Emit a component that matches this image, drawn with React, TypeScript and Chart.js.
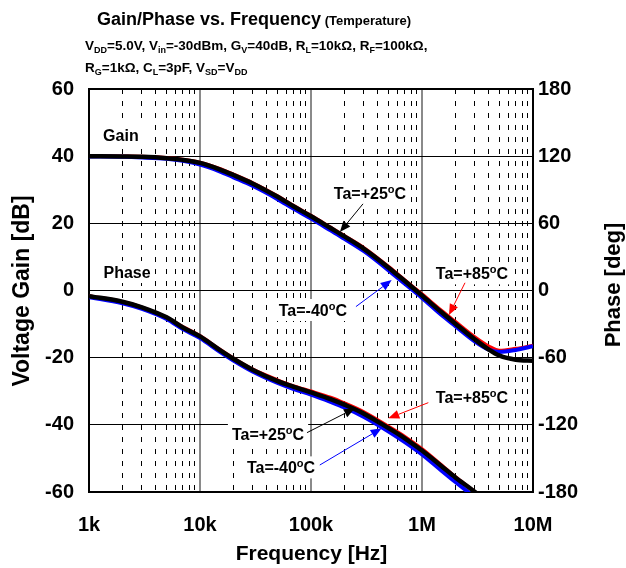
import React, { useEffect, useRef } from 'react';
import { Chart, registerables } from 'chart.js';

Chart.register(...registerables);

const FONT = '"Liberation Sans", Arial, Helvetica, sans-serif';

// ---- data ----
const frequencyHz = [1e3, 2e3, 3e3, 5e3, 7e3, 1e4, 1.5e4, 2e4, 3e4, 5e4, 7e4, 1e5, 1.5e5, 2e5, 3e5, 5e5, 7e5, 1e6, 1.5e6, 2e6, 3e6, 4e6, 5e6, 7e6, 1e7];

const gain25 = [40.0, 39.9, 39.8, 39.4, 38.9, 38.0, 36.1, 34.4, 31.8, 27.9, 25.0, 22.1, 18.6, 16.1, 12.4, 6.8, 2.8, -1.5, -6.5, -9.9, -14.6, -17.6, -19.4, -20.6, -20.9];
const gainM40 = [39.9, 39.8, 39.6, 39.2, 38.6, 37.5, 35.5, 33.7, 31.1, 27.2, 24.3, 21.4, 17.9, 15.4, 11.7, 6.0, 2.0, -2.2, -7.3, -10.6, -15.2, -17.6, -18.3, -17.7, -16.6];
const gain85 = [40.1, 40.0, 39.9, 39.5, 39.0, 38.1, 36.3, 34.6, 32.0, 28.1, 25.2, 22.3, 18.8, 16.3, 12.7, 7.1, 3.1, -1.1, -6.0, -9.3, -13.9, -16.6, -17.9, -17.3, -16.4];

const phase25 = [-5, -10, -15, -24, -33, -41, -53, -61, -71, -81, -86, -91, -97, -102, -110, -123, -132, -143, -157, -167, -180, -191, -199, -212, -225];
const phaseM40 = [-6, -11.5, -16.5, -25.5, -34.5, -42.5, -54.5, -62.5, -72.5, -82.5, -88, -93, -99.5, -104.5, -113, -126, -135.5, -146.5, -161, -171, -185, -196, -204, -217, -230];
const phase85 = [-5, -10, -15, -24, -32.5, -40.5, -52.5, -60.5, -70.5, -80, -85.5, -90, -95.5, -100.5, -108.5, -121.5, -130.5, -141.5, -156, -166.5, -180, -191, -199, -212, -225];

const xDecadeTicks = [1e3, 1e4, 1e5, 1e6, 1e7];
const xDecadeLabels = ['1k', '10k', '100k', '1M', '10M'];
const xMinorMultipliers = [2, 3, 4, 5, 6, 7, 8, 9];

const gainRange = { min: -60, max: 60, step: 20 };
const phaseRange = { min: -180, max: 180, step: 60 };

// ---- text helpers ----
type Run = { t: string; size: number; dy?: number };
const tempRuns = (t: string): Run[] => [
  { t: 'Ta=' + t, size: 16 },
  { t: 'o', size: 11, dy: -6 },
  { t: 'C', size: 16 },
];
const plainRuns = (t: string): Run[] => [{ t, size: 16 }];

function measureRuns(ctx: CanvasRenderingContext2D, runs: Run[]) {
  let total = 0;
  const widths = runs.map((r) => {
    ctx.font = `bold ${r.size}px ${FONT}`;
    const w = ctx.measureText(r.t).width;
    total += w;
    return w;
  });
  return { total, widths };
}

function drawRuns(ctx: CanvasRenderingContext2D, runs: Run[], x: number, y: number, align: string, color = '#000') {
  const { total, widths } = measureRuns(ctx, runs);
  let cx = align === 'left' ? x : align === 'center' ? x - total / 2 : x - total;
  ctx.fillStyle = color;
  ctx.textBaseline = 'alphabetic';
  ctx.textAlign = 'left';
  runs.forEach((r, i) => {
    ctx.font = `bold ${r.size}px ${FONT}`;
    ctx.fillText(r.t, cx, y + (r.dy || 0));
    cx += widths[i];
  });
}

type Ann = {
  runs: Run[];
  axis: 'y' | 'y1';
  f: number;
  v: number;
  align: string;
  arrowColor?: string;
  arrow?: [number, number][];
};

const annotations: Ann[] = [
  { runs: plainRuns('Gain'), axis: 'y', f: 1340, v: 46.3, align: 'left' },
  { runs: plainRuns('Phase'), axis: 'y', f: 1350, v: 5.5, align: 'left' },
  { runs: tempRuns('+25'), axis: 'y', f: 340e3, v: 29.0, align: 'center', arrowColor: '#000000', arrow: [[294e3, 25.8], [182e3, 17.4]] },
  { runs: tempRuns('-40'), axis: 'y', f: 104e3, v: -5.8, align: 'center', arrowColor: '#0000ff', arrow: [[254e3, -4.8], [533e3, 3.1]] },
  { runs: tempRuns('+85'), axis: 'y', f: 2.82e6, v: 5.1, align: 'center', arrowColor: '#ff0000', arrow: [[2.44e6, 2.3], [1.75e6, -7.3]] },
  { runs: tempRuns('+85'), axis: 'y1', f: 2.82e6, v: -95.4, align: 'center', arrowColor: '#ff0000', arrow: [[1.14e6, -100.2], [497e3, -114.2]] },
  { runs: tempRuns('+25'), axis: 'y1', f: 41e3, v: -128.2, align: 'center', arrowColor: '#000000', arrow: [[92e3, -127], [249e3, -105.2]] },
  { runs: tempRuns('-40'), axis: 'y1', f: 53.7e3, v: -158, align: 'center', arrowColor: '#0000ff', arrow: [[120e3, -155.9], [433e3, -123.1]] },
];

const titleRuns: Run[] = [
  { t: 'Gain/Phase vs. Frequency', size: 18 },
  { t: ' (Temperature)', size: 13 },
];
const MAIN = 13.5;
const SUB = 9;
const subLine1: Run[] = [
  { t: 'V', size: MAIN }, { t: 'DD', size: SUB, dy: 3 },
  { t: '=5.0V, V', size: MAIN }, { t: 'in', size: SUB, dy: 3 },
  { t: '=-30dBm, G', size: MAIN }, { t: 'V', size: SUB, dy: 3 },
  { t: '=40dB, R', size: MAIN }, { t: 'L', size: SUB, dy: 3 },
  { t: '=10kΩ, R', size: MAIN }, { t: 'F', size: SUB, dy: 3 },
  { t: '=100kΩ,', size: MAIN },
];
const subLine2: Run[] = [
  { t: 'R', size: MAIN }, { t: 'G', size: SUB, dy: 3 },
  { t: '=1kΩ, C', size: MAIN }, { t: 'L', size: SUB, dy: 3 },
  { t: '=3pF, V', size: MAIN }, { t: 'SD', size: SUB, dy: 3 },
  { t: '=V', size: MAIN }, { t: 'DD', size: SUB, dy: 3 },
];

function annPos(chart: any, a: Ann) {
  const x = chart.scales.x.getPixelForValue(a.f);
  const y = chart.scales[a.axis].getPixelForValue(a.v);
  return { x, y };
}

const decorPlugin = {
  id: 'decor',
  beforeDatasetsDraw(chart: any) {
    const ctx: CanvasRenderingContext2D = chart.ctx;
    ctx.save();
    ctx.fillStyle = '#ffffff';
    for (const a of annotations) {
      const { x, y } = annPos(chart, a);
      const { total } = measureRuns(ctx, a.runs);
      const left = a.align === 'left' ? x : x - total / 2;
      ctx.fillRect(left - 4, y - 11, total + 8, 22);
    }
    ctx.restore();
  },
  afterDatasetsDraw(chart: any) {
    const ctx: CanvasRenderingContext2D = chart.ctx;
    ctx.save();
    for (const a of annotations) {
      const { x, y } = annPos(chart, a);
      drawRuns(ctx, a.runs, x, y + 6, a.align, '#000');
      if (a.arrow) {
        const sx = chart.scales.x;
        const sy = chart.scales[a.axis];
        const x1 = sx.getPixelForValue(a.arrow[0][0]);
        const y1 = sy.getPixelForValue(a.arrow[0][1]);
        const x2 = sx.getPixelForValue(a.arrow[1][0]);
        const y2 = sy.getPixelForValue(a.arrow[1][1]);
        const ang = Math.atan2(y2 - y1, x2 - x1);
        const len = 11;
        const hw = 4.5;
        const bx = x2 - len * Math.cos(ang);
        const by = y2 - len * Math.sin(ang);
        ctx.strokeStyle = a.arrowColor || '#000';
        ctx.fillStyle = a.arrowColor || '#000';
        ctx.lineWidth = 1;
        ctx.beginPath();
        ctx.moveTo(x1, y1);
        ctx.lineTo(bx, by);
        ctx.stroke();
        ctx.beginPath();
        ctx.moveTo(x2, y2);
        ctx.lineTo(bx + hw * Math.sin(ang), by - hw * Math.cos(ang));
        ctx.lineTo(bx - hw * Math.sin(ang), by + hw * Math.cos(ang));
        ctx.closePath();
        ctx.fill();
      }
    }
    ctx.restore();
  },
  afterDraw(chart: any) {
    const ctx: CanvasRenderingContext2D = chart.ctx;
    ctx.save();
    drawRuns(ctx, titleRuns, 97, 25, 'left');
    drawRuns(ctx, subLine1, 85, 50, 'left');
    drawRuns(ctx, subLine2, 85, 72, 'left');
    // axis titles
    ctx.fillStyle = '#000';
    ctx.font = `bold 21px ${FONT}`;
    ctx.textAlign = 'center';
    ctx.textBaseline = 'alphabetic';
    ctx.fillText('Frequency [Hz]', 311.5, 560);
    ctx.textBaseline = 'middle';
    ctx.save();
    ctx.translate(23, 291);
    ctx.rotate(-Math.PI / 2);
    ctx.font = `bold 23px ${FONT}`;
    ctx.fillText('Voltage Gain [dB]', 0, 0);
    ctx.restore();
    ctx.save();
    ctx.translate(614, 285);
    ctx.rotate(-Math.PI / 2);
    ctx.font = `bold 22px ${FONT}`;
    ctx.fillText('Phase [deg]', 0, 0);
    ctx.restore();
    ctx.restore();
  },
};

const tickFont = { family: FONT, size: 20, weight: 'bold' as const };

export default function App() {
  const ref = useRef<HTMLCanvasElement>(null);
  useEffect(() => {
    const canvas = ref.current!;
    const pts = (ys: number[]) => frequencyHz.map((f, i) => ({ x: f, y: ys[i] }));
    const lineDs = (label: string, ys: number[], color: string, width: number, axis: string) => ({
      label,
      data: pts(ys),
      borderColor: color,
      backgroundColor: color,
      borderWidth: width,
      pointRadius: 0,
      cubicInterpolationMode: 'monotone' as const,
      yAxisID: axis,
      xAxisID: 'x',
      clip: 0,
    });
    const minorTicks: number[] = [];
    xDecadeTicks.slice(0, -1).forEach((d) => xMinorMultipliers.forEach((m) => minorTicks.push(d * m)));

    const chart = new Chart(canvas, {
      type: 'line',
      data: {
        datasets: [
          lineDs('Gain 25', gain25, '#000000', 4.5, 'y'),
          lineDs('Phase 25', phase25, '#000000', 4.5, 'y1'),
          lineDs('Gain -40', gainM40, '#0000ff', 4, 'y'),
          lineDs('Phase -40', phaseM40, '#0000ff', 4, 'y1'),
          lineDs('Gain 85', gain85, '#ff0000', 3.5, 'y'),
          lineDs('Phase 85', phase85, '#ff0000', 3.5, 'y1'),
        ] as any,
      },
      options: {
        animation: false,
        responsive: false,
        devicePixelRatio: 1,
        layout: { padding: { top: 89, left: 0, right: 0, bottom: 0 } },
        plugins: { legend: { display: false }, tooltip: { enabled: false }, title: { display: false } },
        scales: {
          x: {
            type: 'logarithmic',
            position: 'bottom',
            min: 1e3,
            max: 1e7,
            afterBuildTicks: (s: any) => {
              s.ticks = xDecadeTicks.map((v) => ({ value: v }));
            },
            afterFit: (s: any) => {
              s.height = 76;
            },
            ticks: {
              autoSkip: false,
              maxRotation: 0,
              font: tickFont,
              color: '#000',
              padding: 21,
              callback: (v: any) => {
                const i = xDecadeTicks.indexOf(Number(v));
                return i >= 0 ? xDecadeLabels[i] : '';
              },
            },
            grid: {
              drawTicks: false,
              color: (c: any) => (c.tick && (c.tick.value === 1e3 || c.tick.value === 1e7) ? '#000' : '#8a8a8a'),
              lineWidth: 2,
            },
            border: { display: true, color: '#000', width: 2 },
          },
          x2: {
            type: 'logarithmic',
            position: 'bottom',
            min: 1e3,
            max: 1e7,
            afterBuildTicks: (s: any) => {
              s.ticks = minorTicks.map((v) => ({ value: v }));
            },
            afterFit: (s: any) => {
              s.height = 0;
            },
            ticks: { display: false, autoSkip: false },
            grid: { drawTicks: false, color: '#000', lineWidth: 1 },
            border: { display: false, dash: [5, 7] },
          },
          y: {
            type: 'linear',
            position: 'left',
            min: gainRange.min,
            max: gainRange.max,
            afterFit: (s: any) => {
              s.width = 89;
            },
            ticks: { stepSize: gainRange.step, font: tickFont, color: '#000', padding: 15 },
            grid: {
              drawTicks: false,
              color: '#000',
              lineWidth: (c: any) => (c.tick && Math.abs(c.tick.value) === 60 ? 2 : 1),
            },
            border: { display: true, color: '#000', width: 2 },
          },
          y1: {
            type: 'linear',
            position: 'right',
            min: phaseRange.min,
            max: phaseRange.max,
            afterFit: (s: any) => {
              s.width = 93;
            },
            ticks: { stepSize: phaseRange.step, font: tickFont, color: '#000', padding: 5 },
            grid: { drawTicks: false, drawOnChartArea: false },
            border: { display: true, color: '#000', width: 2 },
          },
        },
      } as any,
      plugins: [decorPlugin],
    });
    return () => chart.destroy();
  }, []);
  return (
    <div style={{ position: 'absolute', left: 0, top: 0, width: 626, height: 568, background: '#fff' }}>
      <canvas ref={ref} width={626} height={568} style={{ display: 'block', width: 626, height: 568 }} />
    </div>
  );
}
